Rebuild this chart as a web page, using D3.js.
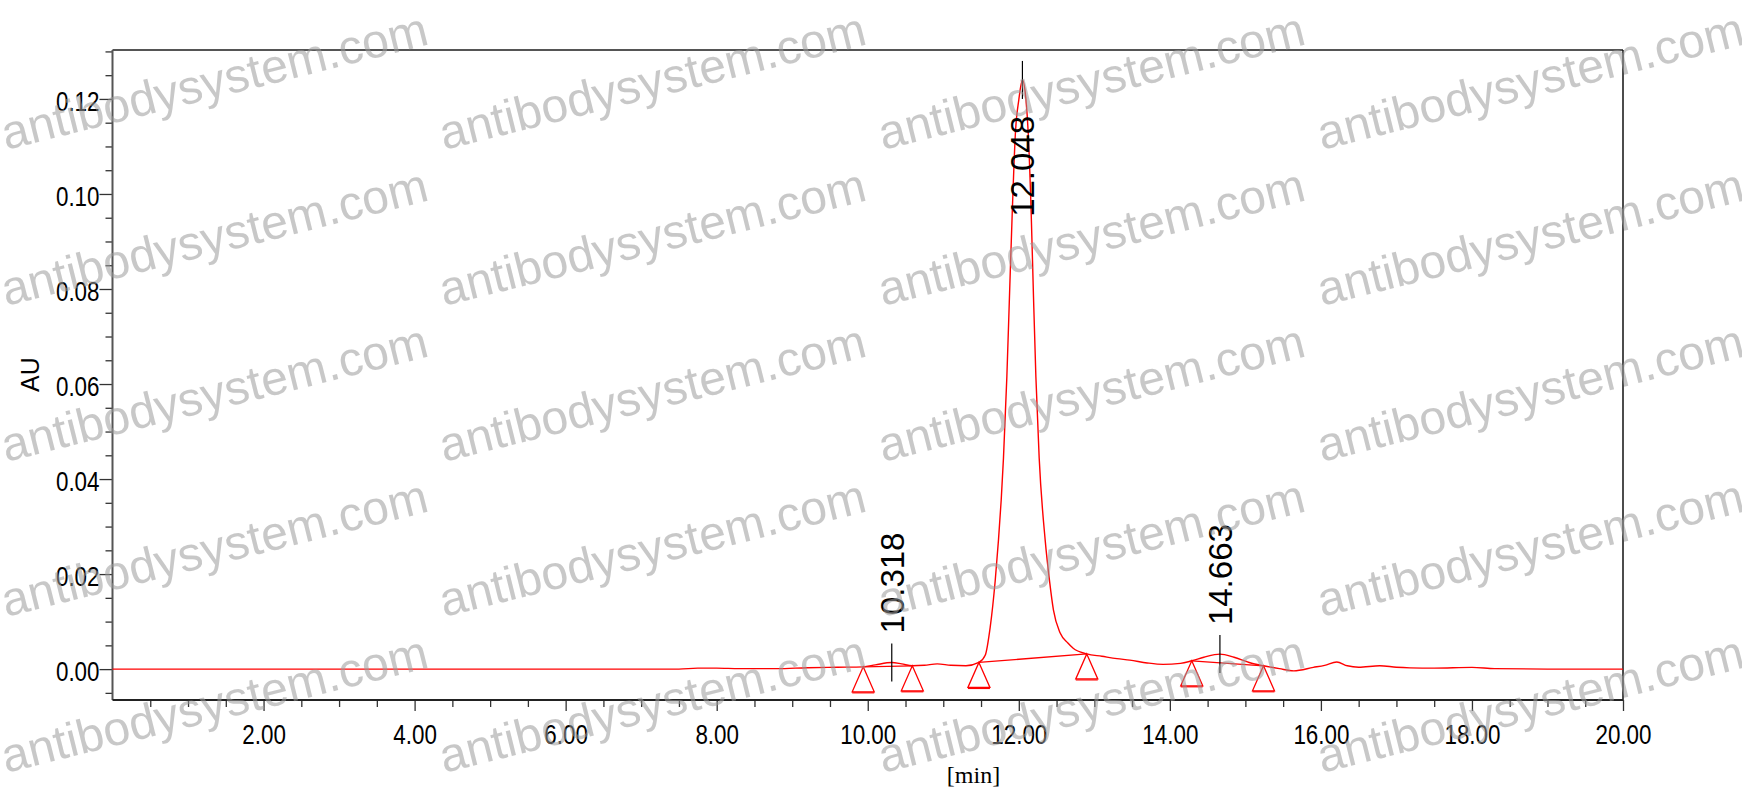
<!DOCTYPE html>
<html>
<head>
<meta charset="utf-8">
<script src="https://cdn.jsdelivr.net/npm/d3@7"></script>
<style>
  html, body { margin: 0; padding: 0; background: #fff; }
  svg { display: block; }
</style>
</head>
<body>
<svg id="chart" width="1742" height="809"></svg>
<script>
// ---------------- DATA ----------------
const traceTime = [0, 2, 4, 6, 7.5, 7.75, 8.0, 8.3, 8.8, 9.2, 9.6, 9.94, 10.1, 10.318, 10.45, 10.59, 10.75,
  10.92, 11.1, 11.3, 11.472, 11.555, 11.621, 11.687, 11.731, 11.767, 11.797, 11.842, 11.877, 11.913, 11.956,
  12.0, 12.048, 12.095, 12.124, 12.164, 12.194, 12.226, 12.27, 12.349, 12.409, 12.459, 12.548, 12.65, 12.72,
  12.90, 13.1, 13.3, 13.47, 13.7, 13.91, 14.14, 14.29, 14.45, 14.663, 14.85, 15.05, 15.24, 15.45, 15.64, 15.9,
  16.05, 16.21, 16.35, 16.5, 16.78, 17.0, 17.18, 17.5, 18.0, 18.3, 19.0, 20.0];
const traceAU = [0, 0, 0, 0, 0, 0.0002, 0.0002, 0.0001, 0.0001, 0.0003, 0.0004, 0.00048, 0.0009, 0.0014, 0.0011, 0.0007, 0.0008,
  0.0011, 0.0008, 0.0007, 0.0014, 0.0029, 0.0088, 0.0185, 0.0272, 0.0356, 0.0444, 0.0616, 0.0787, 0.0960, 0.1131,
  0.1198, 0.1240, 0.1198, 0.1131, 0.0960, 0.0787, 0.0616, 0.0444, 0.0272, 0.0183, 0.0124, 0.0076, 0.0055, 0.0044,
  0.0032, 0.0027, 0.0022, 0.0019, 0.0013, 0.0010, 0.0012, 0.00175, 0.0025, 0.00316, 0.0025, 0.0014, 0.0007, 0.0001, -0.00036, 0.00036,
  0.0008, 0.0015, 0.0007, 0.0004, 0.0007, 0.0004, 0.00027, 0.0002, 0.00036, 0.0001, 0, 0];

const peakTimes = [10.318, 12.048, 14.663];
const peakAU = [0.0014, 0.1240, 0.00316];
const peakLabels = ["10.318", "12.048", "14.663"];

const markerTimes = [9.94, 10.59, 11.472, 12.90, 14.29, 15.24];
const markerAU = [0.00048, 0.0007, 0.0014, 0.0032, 0.00175, 0.0007];
// baseline segments join marker pairs (indexes into marker arrays)
const baselineStart = [0, 2, 4];
const baselineEnd = [1, 3, 5];

const xMajorTicks = [2, 4, 6, 8, 10, 12, 14, 16, 18, 20];
const xTickLabels = ["2.00", "4.00", "6.00", "8.00", "10.00", "12.00", "14.00", "16.00", "18.00", "20.00"];
const yMajorTicks = [0, 0.02, 0.04, 0.06, 0.08, 0.10, 0.12];
const yTickLabels = ["0.00", "0.02", "0.04", "0.06", "0.08", "0.10", "0.12"];
const xMinorStep = 0.5;
const yMinorStep = 0.005;

const xTitle = "[min]";
const yTitle = "AU";
const watermarkText = "antibodysystem.com";

// ---------------- LAYOUT ----------------
const svg = d3.select("#chart");
const L = 112.5, R = 1623, T = 50, B = 700;

const x = d3.scaleLinear().domain([0, 20]).range([L, R]);
const y = d3.scaleLinear().domain([-0.0065, 0.1303]).range([B, T]);

const red = "#ff0000";
const tickFont = "'Liberation Sans', Arial, sans-serif";
const tickSize = "28px";
const squeeze = 0.8;

// minor ticks
const xMinor = d3.range(0, 20.0001, xMinorStep).filter(v => v > 0 && !xMajorTicks.some(m => Math.abs(m - v) < 1e-6));
const yMinor = d3.range(-0.005, 0.1301, yMinorStep).filter(v => !yMajorTicks.some(m => Math.abs(m - v) < 1e-6));

// Y axis
const gy = svg.append("g").attr("transform", `translate(${L},0)`);
gy.call(d3.axisLeft(y).tickValues(yMinor).tickSize(7).tickFormat(""));
const gy2 = svg.append("g").attr("transform", `translate(${L},0)`);
gy2.call(d3.axisLeft(y).tickValues(yMajorTicks).tickSize(13).tickFormat((d, i) => yTickLabels[i]));
[gy, gy2].forEach(g => {
  g.select(".domain").remove();
  g.selectAll("line").attr("stroke", "#333").attr("stroke-width", 1.3);
});
gy2.selectAll("text")
  .attr("x", -13).attr("dy", "0.4em")
  .style("transform-origin", "-13px 0px")
  .style("transform", `scaleX(${squeeze})`)
  .style("font-family", tickFont)
  .style("font-size", tickSize).attr("fill", "#000");

// X axis
const gx = svg.append("g").attr("transform", `translate(0,${B})`);
gx.call(d3.axisBottom(x).tickValues(xMinor).tickSize(7).tickFormat(""));
const gx2 = svg.append("g").attr("transform", `translate(0,${B})`);
gx2.call(d3.axisBottom(x).tickValues(xMajorTicks).tickSize(11).tickFormat((d, i) => xTickLabels[i]));
[gx, gx2].forEach(g => {
  g.select(".domain").remove();
  g.selectAll("line").attr("stroke", "#333").attr("stroke-width", 1.3);
});
gx2.selectAll("text")
  .attr("y", 44).attr("dy", 0)
  .style("transform", `scaleX(${squeeze})`)
  .style("font-family", tickFont)
  .style("font-size", tickSize).attr("fill", "#000");

// frame
svg.append("line").attr("x1", L).attr("x2", R).attr("y1", T).attr("y2", T).attr("stroke", "#555").attr("stroke-width", 2);
svg.append("line").attr("x1", L).attr("x2", L).attr("y1", T).attr("y2", B).attr("stroke", "#555").attr("stroke-width", 2);
svg.append("line").attr("x1", R).attr("x2", R).attr("y1", T).attr("y2", B).attr("stroke", "#111").attr("stroke-width", 1.5);
svg.append("line").attr("x1", L).attr("x2", R).attr("y1", B).attr("y2", B).attr("stroke", "#222").attr("stroke-width", 1.8);

// axis titles
svg.append("text").text(yTitle)
  .attr("transform", `translate(${L - 83},${y(0.062)}) rotate(-90)`)
  .attr("text-anchor", "middle").attr("dy", "0.36em")
  .style("font-family", tickFont).style("font-size", "25px");
svg.append("text").text(xTitle)
  .attr("x", x(11.4)).attr("y", 783).attr("text-anchor", "middle")
  .style("font-family", "'Liberation Serif', 'Times New Roman', serif").style("font-size", "24px");

// baselines
const base = svg.append("g");
baselineStart.forEach((s, i) => {
  const e = baselineEnd[i];
  base.append("line")
    .attr("x1", x(markerTimes[s])).attr("y1", y(markerAU[s]))
    .attr("x2", x(markerTimes[e])).attr("y2", y(markerAU[e]))
    .attr("stroke", red).attr("stroke-width", 1.3);
});

// trace
const pts = traceTime.map((t, i) => [t, traceAU[i]]);
svg.append("path").datum(pts)
  .attr("d", d3.line().x(d => x(d[0])).y(d => y(d[1])).curve(d3.curveMonotoneX))
  .attr("fill", "none").attr("stroke", red).attr("stroke-width", 1.4).attr("stroke-linejoin", "round");

// baseline markers (triangles)
const triW = 22, triH = 25;
markerTimes.forEach((t, i) => {
  const cx = x(t), cy = y(markerAU[i]);
  svg.append("path")
    .attr("d", `M${cx},${cy} L${cx + triW / 2},${cy + triH} L${cx - triW / 2},${cy + triH} Z`)
    .attr("fill", "none").attr("stroke", red).attr("stroke-width", 1.3);
  svg.append("line")
    .attr("x1", cx - triW / 2).attr("x2", cx + triW / 2)
    .attr("y1", cy + triH + 1).attr("y2", cy + triH + 1)
    .attr("stroke", red).attr("stroke-width", 1.2);
});

// peak markers + labels
peakTimes.forEach((t, i) => {
  const px = x(t), py = y(peakAU[i]);
  const top = py - 19, bot = py + 19;
  svg.append("line").attr("x1", px).attr("x2", px).attr("y1", top).attr("y2", bot)
    .attr("stroke", "#000").attr("stroke-width", 1.2);
  const txt = svg.append("text").text(peakLabels[i])
    .style("font-family", tickFont).style("font-size", "33px")
    .attr("dy", "0.36em").attr("fill", "#000");
  const len = txt.node().getComputedTextLength();
  let startY = top - 10;
  if (startY - len < T + 5) startY = bot + 17 + len;
  txt.attr("transform", `translate(${px},${startY}) rotate(-90)`);
});

// watermark
const wmX = [6, 444, 883, 1322];
const wmY = [150, 306, 462, 617, 773];
const wm = svg.append("g").attr("pointer-events", "none");
wmY.forEach(yy => wmX.forEach(xx => {
  wm.append("text").text(watermarkText)
    .attr("transform", `translate(${xx},${yy}) rotate(-14)`)
    .style("font-family", tickFont).style("font-size", "48px")
    .attr("fill", "#9a9a9a").attr("fill-opacity", 0.55);
}));
</script>
</body>
</html>
